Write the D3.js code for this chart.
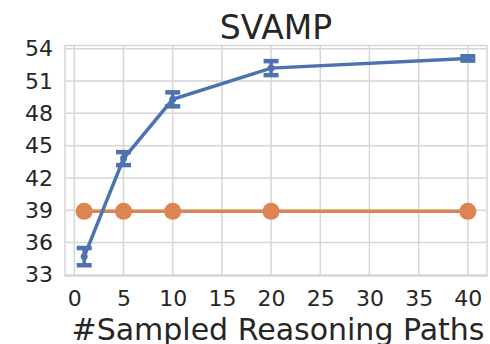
<!DOCTYPE html>
<html>
<head>
<meta charset="utf-8">
<script src="https://cdn.jsdelivr.net/npm/d3@7"></script>
<style>
  body { margin: 0; background: #fff; }
  text { font-family: "DejaVu Sans", sans-serif; fill: #262626; }
</style>
</head>
<body>
<script>
const w = 490;
const h = 344;
const margin = { top: 45.5, right: 3, bottom: 68, left: 65 };

// data
const paths = [1, 5, 10, 20, 40];
const selfConsistency = [34.7, 43.8, 49.3, 52.2, 53.1];
const selfConsistencyErr = [0.8, 0.6, 0.65, 0.65, 0.2];
const greedy = [38.9, 38.9, 38.9, 38.9, 38.9];
const xTicks = [0, 5, 10, 15, 20, 25, 30, 35, 40];
const yTicks = [33, 36, 39, 42, 45, 48, 51, 54];

const svg = d3
  .select("body")
  .append("svg")
  .attr("width", w)
  .attr("height", h);

const xScale = d3
  .scaleLinear()
  .domain([-0.95, 41.95])
  .range([margin.left, w - margin.right]);
const yScale = d3
  .scaleLinear()
  .domain([32.9, 54.3])
  .range([h - margin.bottom, margin.top]);

const gridColor = "#d6d6d6";

// grid
svg
  .append("g")
  .selectAll("line")
  .data(xTicks)
  .enter()
  .append("line")
  .attr("x1", d => xScale(d))
  .attr("x2", d => xScale(d))
  .attr("y1", margin.top)
  .attr("y2", h - margin.bottom)
  .attr("stroke", gridColor)
  .attr("stroke-width", 1.5);

svg
  .append("g")
  .selectAll("line")
  .data(yTicks)
  .enter()
  .append("line")
  .attr("x1", margin.left)
  .attr("x2", w - margin.right)
  .attr("y1", d => yScale(d))
  .attr("y2", d => yScale(d))
  .attr("stroke", gridColor)
  .attr("stroke-width", 1.5);

// frame
svg
  .append("rect")
  .attr("x", margin.left)
  .attr("y", margin.top)
  .attr("width", w - margin.left - margin.right)
  .attr("height", h - margin.top - margin.bottom)
  .attr("fill", "none")
  .attr("stroke", gridColor)
  .attr("stroke-width", 1.5);

// axes (labels only)
const xAxis = svg
  .append("g")
  .attr("transform", "translate(0," + (h - margin.bottom) + ")")
  .call(d3.axisBottom(xScale).tickValues(xTicks).tickSize(0).tickPadding(14));
const yAxis = svg
  .append("g")
  .attr("transform", "translate(" + margin.left + ",0)")
  .call(d3.axisLeft(yScale).tickValues(yTicks).tickSize(0).tickPadding(12));

[xAxis, yAxis].forEach(a => {
  a.select(".domain").remove();
  a.selectAll("text")
    .style("font-family", "DejaVu Sans, sans-serif")
    .style("font-size", "22px")
    .attr("fill", "#262626");
});

// greedy line
const c2 = "#DD8452";
svg
  .append("path")
  .datum(paths.map((x, i) => [x, greedy[i]]))
  .attr("fill", "none")
  .attr("stroke", c2)
  .attr("stroke-width", 3.5)
  .attr("d", d3.line().x(d => xScale(d[0])).y(d => yScale(d[1])));

svg
  .append("g")
  .selectAll("circle")
  .data(paths)
  .enter()
  .append("circle")
  .attr("cx", d => xScale(d))
  .attr("cy", (d, i) => yScale(greedy[i]))
  .attr("r", 8.5)
  .attr("fill", c2);

// self-consistency line with error bars
const c1 = "#4C72B0";
svg
  .append("path")
  .datum(paths.map((x, i) => [x, selfConsistency[i]]))
  .attr("fill", "none")
  .attr("stroke", c1)
  .attr("stroke-width", 3.5)
  .attr("d", d3.line().x(d => xScale(d[0])).y(d => yScale(d[1])));

const bars = svg
  .append("g")
  .selectAll("g")
  .data(paths)
  .enter()
  .append("g");

bars
  .append("line")
  .attr("x1", d => xScale(d))
  .attr("x2", d => xScale(d))
  .attr("y1", (d, i) => yScale(selfConsistency[i] - selfConsistencyErr[i]))
  .attr("y2", (d, i) => yScale(selfConsistency[i] + selfConsistencyErr[i]))
  .attr("stroke", c1)
  .attr("stroke-width", 3.5);

[-1, 1].forEach(s => {
  bars
    .append("line")
    .attr("x1", d => xScale(d) - 7.5)
    .attr("x2", d => xScale(d) + 7.5)
    .attr("y1", (d, i) => yScale(selfConsistency[i] + s * selfConsistencyErr[i]))
    .attr("y2", (d, i) => yScale(selfConsistency[i] + s * selfConsistencyErr[i]))
    .attr("stroke", c1)
    .attr("stroke-width", 4.5);
});

bars
  .append("circle")
  .attr("cx", d => xScale(d))
  .attr("cy", (d, i) => yScale(selfConsistency[i]))
  .attr("r", 3.5)
  .attr("fill", c1);

// title and x label
svg
  .append("text")
  .attr("x", (margin.left + w - margin.right) / 2)
  .attr("y", 39)
  .attr("text-anchor", "middle")
  .style("font-size", "33px")
  .text("SVAMP");

svg
  .append("text")
  .attr("x", (margin.left + w - margin.right) / 2 + 2)
  .attr("y", 340)
  .attr("text-anchor", "middle")
  .style("font-size", "30px")
  .text("#Sampled Reasoning Paths");
</script>
</body>
</html>
